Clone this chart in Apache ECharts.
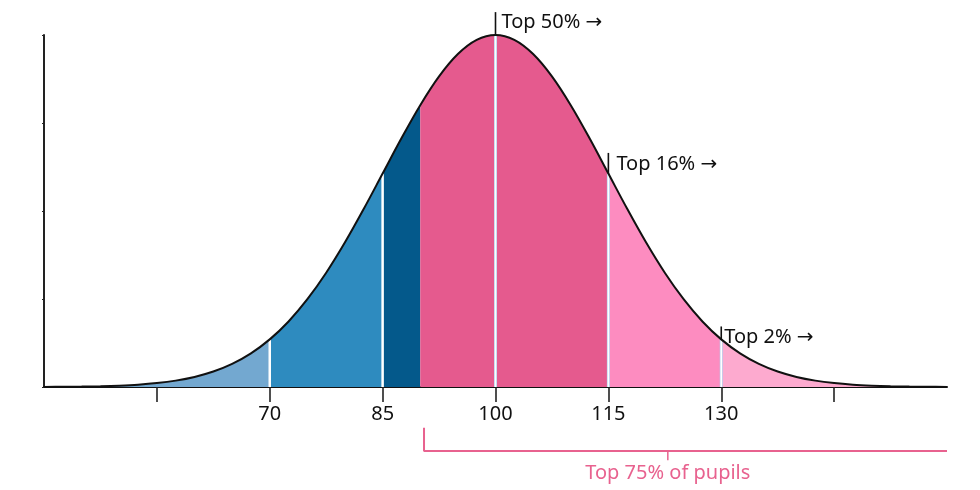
<!DOCTYPE html>
<html>
<head>
<meta charset="utf-8">
<script src="https://cdn.jsdelivr.net/npm/echarts@6/dist/echarts.min.js"></script>
<style>
  html, body { margin: 0; padding: 0; background: #ffffff; }
  #chart { width: 980px; height: 490px; }
</style>
</head>
<body>
<div id="chart"></div>
<script>
// Score values (x) and relative curve height (peak = 100)
const scores = [40, 42.5, 45, 47.5, 50, 52.5, 55, 57.5, 60, 62.5, 65, 67.5, 70, 72.5, 75, 77.5, 80, 82.5, 85, 87.5, 90, 92.5, 95, 97.5, 100,
  102.5, 105, 107.5, 110, 112.5, 115, 117.5, 120, 122.5, 125, 127.5, 130, 132.5, 135, 137.5, 140, 142.5, 145, 147.5, 150, 152.5, 155, 157.5, 160];
const heights = [0.03, 0.06, 0.12, 0.22, 0.39, 0.66, 1.11, 1.81, 2.86, 4.39, 6.57, 9.56, 13.53, 18.62, 24.94, 32.47, 41.11, 50.63, 60.65, 70.67, 80.07, 88.25, 94.60, 98.62, 100,
  98.62, 94.60, 88.25, 80.07, 70.67, 60.65, 50.63, 41.11, 32.47, 24.94, 18.62, 13.53, 9.56, 6.57, 4.39, 2.86, 1.81, 1.11, 0.66, 0.39, 0.22, 0.12, 0.06, 0.03];

// Band boundaries and colours
const bandEdges = [40, 70, 85, 90, 115, 130, 160];
const bandColors = ['#73a8d0', '#2e8bbf', '#04598b', '#e55a8e', '#fd8cc0', '#fdaacf'];

// Divider positions inside the curve
const dividers = [70, 85, 100, 115, 130];
const dividerTint = [false, false, true, true, true];

// Tick labels
const tickValues = [55, 70, 85, 100, 115, 130, 145];
const labelValues = [70, 85, 100, 115, 130];

// Annotations above the curve
const annScores = [100, 115, 130];
const annTickTop = [106.5, 66.5, 17.2];
const annLabelY = [103.6, 63.2, 14.1];
const annTexts = ['Top 50% \u2192', 'Top 16% \u2192', 'Top 2% \u2192'];
const annOffsets = [6, 8, 3];

// Bracket under the axis
const bracketStart = 90.5;
const bracketEnd = 160;
const bracketMid = 122.9;
const bracketText = 'Top 75% of pupils';

const FONT = '"Noto Sans", "Open Sans", "DejaVu Sans", sans-serif';

function heightAt(x) {
  const i = scores.indexOf(x);
  return heights[i];
}
function pairsBetween(a, b) {
  const out = [];
  for (let i = 0; i < scores.length; i++) {
    if (scores[i] >= a && scores[i] <= b) out.push([scores[i], heights[i]]);
  }
  return out;
}

const series = [];
for (let k = 0; k < bandColors.length; k++) {
  series.push({
    type: 'line',
    data: pairsBetween(bandEdges[k], bandEdges[k + 1]),
    smooth: 0.35,
    symbol: 'none',
    lineStyle: { width: 0 },
    areaStyle: { color: bandColors[k], opacity: 1 },
    silent: true,
    z: 2
  });
}
dividers.forEach(function (x, i) {
  if (dividerTint[i]) {
    series.push({
      type: 'line', data: [[x, 0], [x, heightAt(x)]], symbol: 'none',
      lineStyle: { color: '#b4d0ee', width: 3 }, silent: true, z: 3
    });
    series.push({
      type: 'line', data: [[x, 0], [x, heightAt(x)]], symbol: 'none',
      lineStyle: { color: '#ffffff', width: 1.6 }, silent: true, z: 3
    });
  } else {
    series.push({
      type: 'line', data: [[x, 0], [x, heightAt(x)]], symbol: 'none',
      lineStyle: { color: '#ffffff', width: 2.5 }, silent: true, z: 3
    });
  }
});
// outline
series.push({
  type: 'line',
  data: scores.map(function (x, i) { return [x, heights[i]]; }),
  smooth: 0.35,
  symbol: 'none',
  lineStyle: { color: '#111111', width: 2 },
  silent: true,
  z: 4
});
// annotation ticks
annScores.forEach(function (x, i) {
  series.push({
    type: 'line', data: [[x, heightAt(x)], [x, annTickTop[i]]], symbol: 'none',
    lineStyle: { color: '#111111', width: 1.6 }, clip: false, silent: true, z: 5
  });
});
// annotation labels
series.push({
  type: 'scatter',
  symbolSize: 0,
  clip: false,
  silent: true,
  z: 6,
  itemStyle: { opacity: 1 },
  data: annScores.map(function (x, i) {
    return {
      value: [x, annLabelY[i]], name: annTexts[i],
      label: { offset: [annOffsets[i], 0] }
    };
  }),
  label: {
    show: true, position: [0, 0], align: 'left', verticalAlign: 'middle',
    formatter: '{b}', color: '#111111', fontSize: 20, fontFamily: FONT, opacity: 1
  }
});
// bracket
series.push({
  type: 'line',
  data: [[bracketStart, -11.6], [bracketStart, -18.2], [bracketEnd, -18.2]],
  symbol: 'none', clip: false, silent: true, z: 5,
  lineStyle: { color: '#e8628f', width: 2 }
});
series.push({
  type: 'line',
  data: [[bracketMid, -18.2], [bracketMid, -20.8]],
  symbol: 'none', clip: false, silent: true, z: 5,
  lineStyle: { color: '#e8628f', width: 1.5 }
});
series.push({
  type: 'scatter',
  symbolSize: 0, clip: false, silent: true, z: 6,
  itemStyle: { opacity: 1 },
  data: [{ value: [bracketMid, -24.4], name: bracketText }],
  label: {
    show: true, position: [0, 0], align: 'center', verticalAlign: 'middle',
    formatter: '{b}', color: '#e8628f', fontSize: 20, fontFamily: FONT, opacity: 1
  }
});

const chart = echarts.init(document.getElementById('chart'), null, { renderer: 'canvas' });
chart.setOption({
  animation: false,
  backgroundColor: '#ffffff',
  grid: { left: 44, right: 33, top: 35, bottom: 103, containLabel: false },
  xAxis: {
    type: 'value', min: 40, max: 160, interval: 15,
    axisLine: { lineStyle: { color: '#111111', width: 2 } },
    axisTick: { show: true, length: 15, customValues: tickValues, lineStyle: { color: '#222222', width: 1.6 } },
    axisLabel: { customValues: labelValues, margin: 17, fontSize: 20, color: '#111111', fontFamily: FONT },
    splitLine: { show: false }
  },
  yAxis: {
    type: 'value', min: 0, max: 100, interval: 25,
    axisLine: { show: true, lineStyle: { color: '#222222', width: 2 } },
    axisTick: { show: true, length: 2, lineStyle: { color: '#222222', width: 1 } },
    axisLabel: { show: false },
    splitLine: { show: false }
  },
  series: series
});
</script>
</body>
</html>
